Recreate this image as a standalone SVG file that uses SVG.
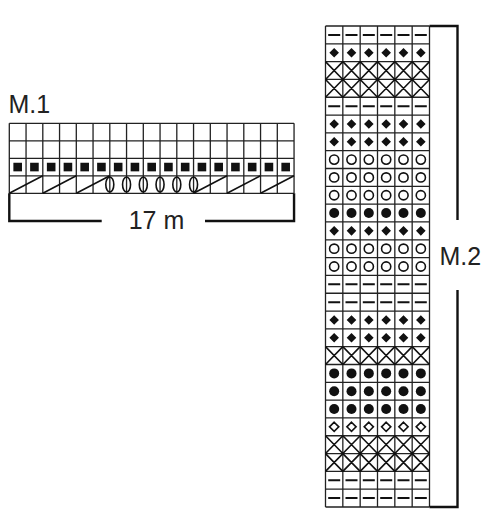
<svg xmlns="http://www.w3.org/2000/svg" xmlns:xlink="http://www.w3.org/1999/xlink" width="500" height="516" viewBox="0 0 500 516">
<style>
.grid{fill:none;stroke:#222;stroke-width:1.3}
.sym{fill:none;stroke:#111;stroke-width:1.6}
.fill{fill:#111;stroke:none}
.brk{fill:none;stroke:#111;stroke-width:2.4}
.lbl{font-family:"Liberation Sans",Arial,sans-serif;font-size:25px;fill:#222}
</style>
<defs>
<rect id="sq" x="-4.3" y="-4.3" width="8.6" height="8.6" class="fill"/>
<g id="rDash"><path d="M328.2 0H340.2M345.5 0H357.5M362.8 0H374.8M380.2 0H392.2M397.5 0H409.5M414.8 0H426.8" stroke="#111" stroke-width="2"/></g>
<g id="rDia" class="fill"><path d="M334.17 -4.8L338.97 0L334.17 4.8L329.37 0ZM351.5 -4.8L356.3 0L351.5 4.8L346.7 0ZM368.83 -4.8L373.63 0L368.83 4.8L364.03 0ZM386.17 -4.8L390.97 0L386.17 4.8L381.37 0ZM403.5 -4.8L408.3 0L403.5 4.8L398.7 0ZM420.83 -4.8L425.63 0L420.83 4.8L416.03 0Z"/></g>
<g id="rODia" class="sym"><path d="M334.17 -4.6L338.8 0L334.17 4.6L329.5 0ZM351.5 -4.6L356.1 0L351.5 4.6L346.9 0ZM368.83 -4.6L373.4 0L368.83 4.6L364.2 0ZM386.17 -4.6L390.8 0L386.17 4.6L381.6 0ZM403.5 -4.6L408.1 0L403.5 4.6L398.9 0ZM420.83 -4.6L425.4 0L420.83 4.6L416.2 0Z"/></g>
<g id="rX" class="sym"><path d="M325.5 -8.9L342.83 8.9M342.83 -8.9L325.5 8.9M342.83 -8.9L360.17 8.9M360.17 -8.9L342.83 8.9M360.17 -8.9L377.5 8.9M377.5 -8.9L360.17 8.9M377.5 -8.9L394.83 8.9M394.83 -8.9L377.5 8.9M394.83 -8.9L412.17 8.9M412.17 -8.9L394.83 8.9M412.17 -8.9L429.5 8.9M429.5 -8.9L412.17 8.9" stroke-width="1.6"/></g>
<g id="rOC" class="sym"><circle cx="334.17" cy="0" r="4.6"/><circle cx="351.5" cy="0" r="4.6"/><circle cx="368.83" cy="0" r="4.6"/><circle cx="386.17" cy="0" r="4.6"/><circle cx="403.5" cy="0" r="4.6"/><circle cx="420.83" cy="0" r="4.6"/></g>
<g id="rFC" class="fill"><circle cx="334.17" cy="0" r="5"/><circle cx="351.5" cy="0" r="5"/><circle cx="368.83" cy="0" r="5"/><circle cx="386.17" cy="0" r="5"/><circle cx="403.5" cy="0" r="5"/><circle cx="420.83" cy="0" r="5"/></g>
</defs>
<rect width="500" height="516" fill="#fff"/>

<g id="m1">
<text class="lbl" x="8.5" y="113">M.1</text>
<path class="grid" d="M9.3 123.3H294.05M9.3 140.8H294.05M9.3 158.3H294.05M9.3 175.8H294.05M9.3 193.3H294.05M9.3 123.3V193.3M26.05 123.3V193.3M42.8 123.3V193.3M59.55 123.3V193.3M76.3 123.3V193.3M93.05 123.3V193.3M109.8 123.3V193.3M126.55 123.3V193.3M143.3 123.3V193.3M160.05 123.3V193.3M176.8 123.3V193.3M193.55 123.3V193.3M210.3 123.3V193.3M227.05 123.3V193.3M243.8 123.3V193.3M260.55 123.3V193.3M277.3 123.3V193.3M294.05 123.3V193.3"/>
<g id="m1-squares">
<use xlink:href="#sq" x="17.68" y="167.05"/><use xlink:href="#sq" x="34.43" y="167.05"/><use xlink:href="#sq" x="51.18" y="167.05"/><use xlink:href="#sq" x="67.93" y="167.05"/><use xlink:href="#sq" x="84.68" y="167.05"/><use xlink:href="#sq" x="101.43" y="167.05"/><use xlink:href="#sq" x="118.18" y="167.05"/><use xlink:href="#sq" x="134.93" y="167.05"/><use xlink:href="#sq" x="151.68" y="167.05"/><use xlink:href="#sq" x="168.43" y="167.05"/><use xlink:href="#sq" x="185.18" y="167.05"/><use xlink:href="#sq" x="201.93" y="167.05"/><use xlink:href="#sq" x="218.68" y="167.05"/><use xlink:href="#sq" x="235.43" y="167.05"/><use xlink:href="#sq" x="252.18" y="167.05"/><use xlink:href="#sq" x="268.93" y="167.05"/><use xlink:href="#sq" x="285.68" y="167.05"/>
</g>
<path class="sym" stroke-width="1.9" d="M9.3 193.3L42.8 175.8M42.8 193.3L76.3 175.8M76.3 193.3L109.8 175.8M193.55 193.3L227.05 175.8M227.05 193.3L260.55 175.8M260.55 193.3L294.05 175.8"/>
<g class="sym" stroke-width="1.7">
<ellipse cx="109.8" cy="184.55" rx="4" ry="7.5"/><ellipse cx="126.55" cy="184.55" rx="4" ry="7.5"/><ellipse cx="143.3" cy="184.55" rx="4" ry="7.5"/><ellipse cx="160.05" cy="184.55" rx="4" ry="7.5"/><ellipse cx="176.8" cy="184.55" rx="4" ry="7.5"/><ellipse cx="193.55" cy="184.55" rx="4" ry="7.5"/>
</g>
</g>

<g id="m2">
<path class="grid" d="M325.5 26H429.5M325.5 43.82H429.5M325.5 61.63H429.5M325.5 79.45H429.5M325.5 97.26H429.5M325.5 115.08H429.5M325.5 132.89H429.5M325.5 150.71H429.5M325.5 168.52H429.5M325.5 186.34H429.5M325.5 204.15H429.5M325.5 221.97H429.5M325.5 239.78H429.5M325.5 257.6H429.5M325.5 275.41H429.5M325.5 293.23H429.5M325.5 311.04H429.5M325.5 328.86H429.5M325.5 346.67H429.5M325.5 364.49H429.5M325.5 382.3H429.5M325.5 400.12H429.5M325.5 417.93H429.5M325.5 435.75H429.5M325.5 453.56H429.5M325.5 471.38H429.5M325.5 489.19H429.5M325.5 507H429.5M325.5 26V507M342.83 26V507M360.17 26V507M377.5 26V507M394.83 26V507M412.17 26V507M429.5 26V507"/>
<use xlink:href="#rDash" y="34.91"/>
<use xlink:href="#rDia" y="52.72"/>
<use xlink:href="#rX" y="70.54"/>
<use xlink:href="#rX" y="88.35"/>
<use xlink:href="#rDash" y="106.17"/>
<use xlink:href="#rDia" y="123.98"/>
<use xlink:href="#rDia" y="141.8"/>
<use xlink:href="#rOC" y="159.61"/>
<use xlink:href="#rOC" y="177.43"/>
<use xlink:href="#rOC" y="195.24"/>
<use xlink:href="#rFC" y="213.06"/>
<use xlink:href="#rDia" y="230.87"/>
<use xlink:href="#rOC" y="248.69"/>
<use xlink:href="#rOC" y="266.5"/>
<use xlink:href="#rDash" y="284.32"/>
<use xlink:href="#rDash" y="302.13"/>
<use xlink:href="#rDia" y="319.95"/>
<use xlink:href="#rDia" y="337.76"/>
<use xlink:href="#rX" y="355.58"/>
<use xlink:href="#rFC" y="373.39"/>
<use xlink:href="#rFC" y="391.21"/>
<use xlink:href="#rFC" y="409.02"/>
<use xlink:href="#rODia" y="426.84"/>
<use xlink:href="#rX" y="444.65"/>
<use xlink:href="#rX" y="462.47"/>
<use xlink:href="#rDash" y="480.28"/>
<use xlink:href="#rDash" y="498.1"/>
<text class="lbl" x="439.5" y="265">M.2</text>
</g>

<g id="connectors">
<path class="brk" d="M9.3 193.3V221H101.7M205 221H294.05V193.3"/>
<path class="brk" d="M429.5 26H457.5V220M457.5 290V507H429.5"/>
</g>
<text class="lbl" x="156.5" y="229" text-anchor="middle">17 m</text>
</svg>
